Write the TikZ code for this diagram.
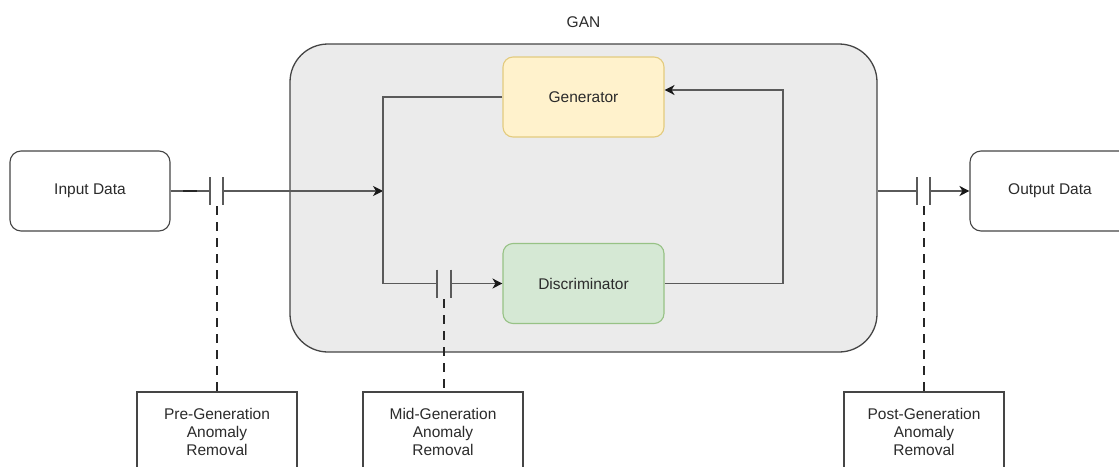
\documentclass[tikz,border=0pt]{standalone}
\usepackage{fontspec}
\setmainfont{Liberation Sans}
\usetikzlibrary{arrows.meta}

\definecolor{wirec}{HTML}{5A5A5A}
\definecolor{txtc}{HTML}{2B2B2B}
\definecolor{ganfill}{HTML}{EBEBEB}
\definecolor{ganline}{HTML}{454545}
\definecolor{genfill}{HTML}{FFF2CC}
\definecolor{genline}{HTML}{E3CB7E}
\definecolor{disfill}{HTML}{D5E8D4}
\definecolor{disline}{HTML}{97C285}

\begin{document}
\begin{tikzpicture}[
  x=1pt, y=-1pt,
  every node/.style={font=\fontsize{15.5}{18}\selectfont, text=txtc},
  iobox/.style={draw=ganline, line width=1.1pt, fill=white, rounded corners=11pt,
                minimum width=160pt, minimum height=80pt, inner sep=0pt},
  ganbox/.style={draw=ganline, line width=1.3pt, fill=ganfill, rounded corners=38pt,
                 minimum width=587pt, minimum height=308pt, inner sep=0pt},
  genbox/.style={draw=genline, line width=1.1pt, fill=genfill, rounded corners=10pt,
                 minimum width=161pt, minimum height=80pt, inner sep=0pt},
  disbox/.style={draw=disline, line width=1.1pt, fill=disfill, rounded corners=10pt,
                 minimum width=161pt, minimum height=80pt, inner sep=0pt},
  removebox/.style={draw=ganline, line width=1.1pt, fill=white, align=center,
                    minimum width=160pt, minimum height=80pt, inner sep=0pt},
  wire/.style={draw=wirec, line width=1.3pt},
  arrowwire/.style={wire, -{Stealth[length=10pt,width=10pt,inset=3pt,color=black!90]}},
  thickseg/.style={draw=black!85, line width=2.3pt},
  plate/.style={draw=wirec, line width=1.6pt},
  dashline/.style={draw=black!85, line width=1.1pt, dash pattern=on 9pt off 7pt},
]
\useasboundingbox (0,0) rectangle (1119,466);

% GAN container and its title
\node[ganbox] (gan) at (583.5,198) {};
\node (ganlabel) at (583.5,22) {GAN};

% main blocks
\node[iobox] (in) at (90,191) {Input Data};
\node[iobox] (out) at (1050,191) {Output Data};
\node[genbox] (gen) at (583.5,97) {Generator};
\node[disbox] (dis) at (583.5,283.5) {Discriminator};

% anomaly removal stages
\node[removebox] (pre) at (217,432) {Pre-Generation\\Anomaly\\Removal};
\node[removebox] (mid) at (443,432) {Mid-Generation\\Anomaly\\Removal};
\node[removebox] (post) at (924,432) {Post-Generation\\Anomaly\\Removal};

% switch plates on the data paths
\coordinate (p1a) at (210,191);
\coordinate (p1b) at (223,191);
\coordinate (p2a) at (437,283.5);
\coordinate (p2b) at (451,283.5);
\coordinate (p3a) at (917,191);
\coordinate (p3b) at (930,191);
\foreach \p in {p1a,p1b,p2a,p2b,p3a,p3b}
  \draw[plate] ([yshift=14pt]\p) -- ([yshift=-14pt]\p);

% junctions of the left loop
\coordinate (jtop) at (383,97);
\coordinate (jmid) at (383,191);
\coordinate (jbot) at (383,283.5);
\coordinate (fb) at (783,90);

% input path
\draw[wire] (in.east) -- (p1a);
\coordinate (t1a) at (183,191);
\coordinate (t1b) at (197,191);
\draw[thickseg] (t1a) -- (t1b);
\draw[arrowwire] (p1b) -- (jmid);

% generator to discriminator loop
\draw[wire] (gen.west) -- (jtop) -- (jbot) -- (p2a);
\draw[arrowwire] (p2b) -- (dis.west);

% feedback from discriminator to generator
\draw[arrowwire] (dis.east) -| (fb) -- (gen.east |- fb);

% output path
\draw[wire] (gan.east |- out) -- (p3a);
\coordinate (t3a) at (945,191);
\coordinate (t3b) at (960,191);
\draw[thickseg] (t3a) -- (t3b);
\draw[arrowwire] (p3b) -- (out.west);

% dashed links to the removal stages
\coordinate (d1) at (217,206);
\coordinate (d2) at (444,299);
\coordinate (d3) at (924,206);
\draw[dashline] (d1) -- (pre.north);
\draw[dashline] (d2) -- (mid.north -| d2);
\draw[dashline] (d3) -- (post.north);
\end{tikzpicture}
\end{document}
